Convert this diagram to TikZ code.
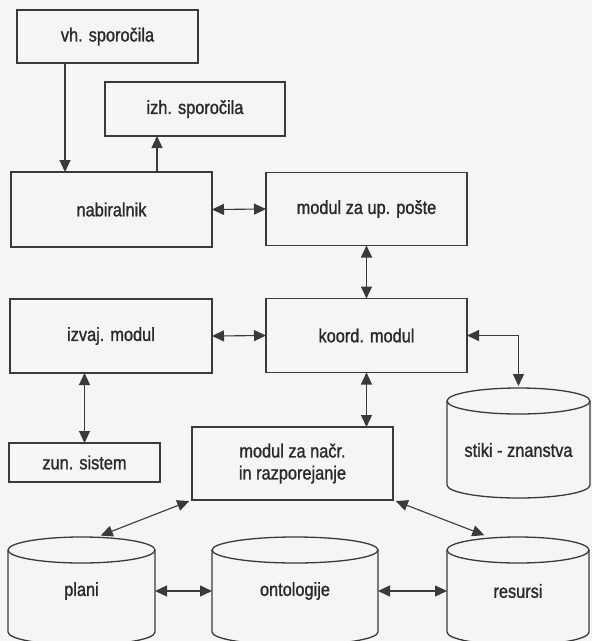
\documentclass[tikz,border=0pt]{standalone}
\usepackage{fontspec}
\setmainfont[FakeStretch=0.86,FakeBold=1.2]{Liberation Sans}
\usetikzlibrary{arrows.meta,calc}
\definecolor{bg}{HTML}{F4F5F4}
\definecolor{ln}{HTML}{3A3A3A}
\definecolor{tx}{HTML}{2A2A2A}
\newcommand\drawcyl[2]{%
  \draw[cylline] ([yshift=-13pt]#1.north west) -- ([yshift=13pt]#1.south west)
    arc[start angle=180,end angle=360,x radius=#2pt,y radius=13pt]
    -- ([yshift=-13pt]#1.north east);
  \draw[cylline] ([yshift=-13pt]#1.north) ellipse[x radius=#2pt,y radius=13pt];}
\begin{document}
\begin{tikzpicture}[x=1pt,y=-1pt,
  txt/.style={font=\fontsize{19}{22}\selectfont, text=tx, align=center},
  box/.style={txt, draw=ln, line width=1.3pt, inner sep=0pt, outer sep=0pt},
  cyl/.style={txt, inner sep=0pt, outer sep=0pt},
  cylline/.style={draw=ln, line width=1.3pt},
  tip/.tip={Triangle[length=12pt,width=11pt]},
  conn/.style={draw=ln, line width=1.1pt, -tip},
  bi/.style={draw=ln, line width=1.1pt, tip-tip}]
\fill[bg] (0,0) rectangle (592,641);
\useasboundingbox (0,0) rectangle (592,641);
\clip (0,0) rectangle (592,641);

\node[box, minimum width=181pt, minimum height=53pt] (vh) at (107.5,36.5) {vh. sporočila};
\node[box, minimum width=180pt, minimum height=54pt] (izh) at (195,109) {izh. sporočila};
\node[box, minimum width=201pt, minimum height=75pt] (nab) at (111.5,209.5) {nabiralnik};
\node[box, minimum width=201pt, minimum height=73pt] (up) at (366.5,209) {modul za up. pošte};
\node[box, minimum width=202pt, minimum height=74pt] (izv) at (111,336) {izvaj. modul};
\node[box, minimum width=201pt, minimum height=74pt] (koord) at (366.5,335.5) {koord. modul};
\node[box, minimum width=151pt, minimum height=39pt] (zun) at (84.5,462.5) {zun. sistem};
\node[box, minimum width=201pt, minimum height=73pt] (nacr) at (292.5,463.5) {modul za načr.\\in razporejanje};

\node[cyl, minimum width=143pt, minimum height=110pt,
      label={[txt, yshift=-7pt]center:stiki - znanstva}] (stiki) at (518.5,443) {};
\node[cyl, minimum width=147pt, minimum height=108pt] (plani) at (81.5,591) {plani};
\node[cyl, minimum width=166pt, minimum height=108pt] (onto) at (295,591) {ontologije};
\node[cyl, minimum width=142pt, minimum height=108pt] (res) at (518,591) {resursi};
\drawcyl{stiki}{71.5}
\drawcyl{plani}{73.5}
\drawcyl{onto}{83}
\drawcyl{res}{71}

\coordinate (vhout) at ([xshift=48pt]vh.south west);
\coordinate (izhin) at ([xshift=52pt]izh.south west);
\draw[conn] (vhout) -- (vhout |- nab.north);
\draw[conn] (izhin |- nab.north) -- (izhin);
\draw[bi] (nab.east) -- (up.west);
\draw[bi] (up.south) -- (koord.north);
\draw[bi] (izv.east) -- (koord.west);
\draw[bi] (zun.north |- izv.south) -- (zun.north);
\draw[bi, shorten >=2pt] (koord.east) -| (stiki.north);
\draw[bi] (koord.south) -- (koord.south |- nacr.north);
\draw[bi, shorten <=3pt, shorten >=4pt] (nacr.south west) -- ([xshift=15.5pt]plani.north);
\draw[bi, shorten <=3pt, shorten >=5pt] (nacr.south east) -- ([xshift=-29pt]res.north);
\draw[bi] (plani.east) -- (onto.west);
\draw[bi] (onto.east) -- (res.west);
\end{tikzpicture}
\end{document}
